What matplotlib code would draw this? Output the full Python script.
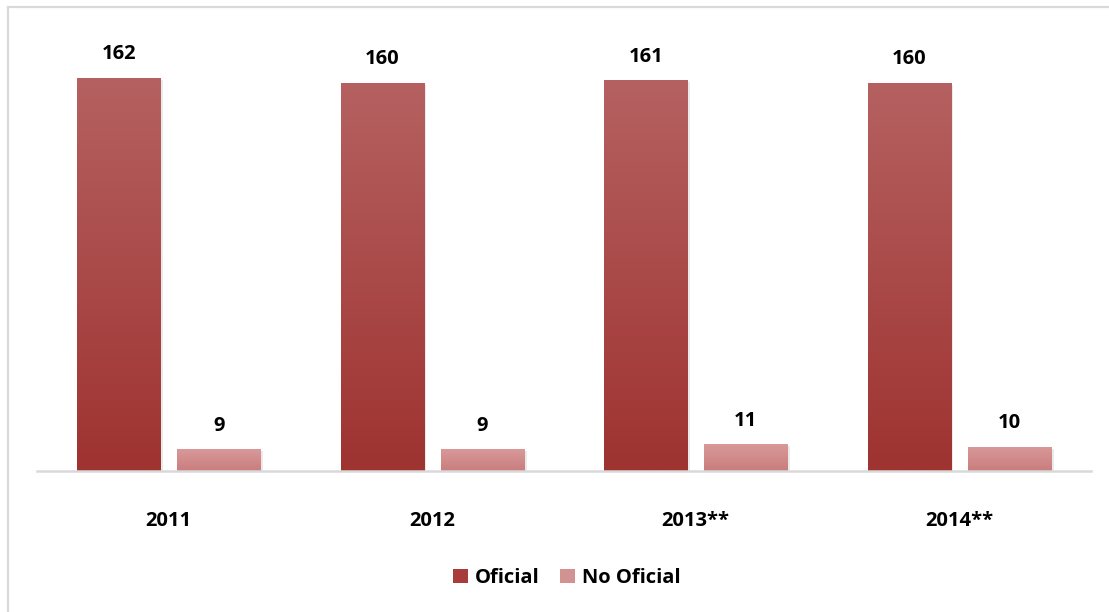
import numpy as np
import matplotlib
matplotlib.use("Agg")
from matplotlib import pyplot as plt
from matplotlib.patches import Patch
from matplotlib.lines import Line2D
import matplotlib.patheffects as pe

categories = ["2011", "2012", "2013**", "2014**"]
oficial = [162, 160, 161, 160]
no_oficial = [9, 9, 11, 10]
series_names = ["Oficial", "No Oficial"]

plt.rcParams['font.family'] = ['Open Sans', 'DejaVu Sans']
plt.rcParams['font.weight'] = 'bold'

W, H = 1109, 612
fig = plt.figure(figsize=(W / 100, H / 100), dpi=100)
ax = fig.add_axes([37 / W, 141 / H, 1054 / W, 437 / H])

x = np.arange(len(categories))
bw = 0.315
off = 0.19

# gradient colours (top, bottom)
grad = {
    "Oficial": ((0.71, 0.38, 0.38), (0.62, 0.20, 0.19)),
    "No Oficial": ((0.85, 0.60, 0.60), (0.79, 0.49, 0.49)),
}
base = {"Oficial": "#a83c3a", "No Oficial": "#d39292"}

shadow = [pe.SimplePatchShadow(offset=(2, -1.5), shadow_rgbFace=(0.6, 0.6, 0.6), alpha=0.2),
          pe.Normal()]

for vals, name, dx in [(oficial, "Oficial", -off), (no_oficial, "No Oficial", off)]:
    bars = ax.bar(x + dx, vals, width=bw, color=base[name], zorder=2,
                  path_effects=shadow)
    top, bot = grad[name]
    g = np.linspace(0, 1, 64)
    img = np.zeros((64, 1, 3))
    for k in range(3):
        img[:, 0, k] = top[k] * (1 - g) + bot[k] * g
    for b, v in zip(bars, vals):
        x0 = b.get_x()
        im = ax.imshow(img, extent=(x0, x0 + bw, 0, v), aspect='auto',
                       origin='upper', zorder=3, interpolation='bilinear')
        im.set_clip_path(b)
        ax.annotate(str(v), (b.get_x() + bw / 2, v), xytext=(0, 17),
                    textcoords='offset points', ha='center', va='center',
                    fontsize=14.5, fontweight='bold', color='black')

ax.set_xlim(-0.5, len(categories) - 0.5)
ax.set_ylim(0, 180)
ax.set_yticks([])
ax.set_xticks(x)
ax.set_xticklabels(categories, fontsize=14.5, fontweight='bold')
ax.tick_params(axis='x', length=0, pad=29)
for s in ['top', 'right', 'left']:
    ax.spines[s].set_visible(False)
ax.spines['bottom'].set_color('#d9d9d9')
ax.spines['bottom'].set_linewidth(1.8)
ax.spines['bottom'].set_zorder(4)

handles = [Patch(facecolor=base[n], edgecolor='none') for n in series_names]
leg = fig.legend(handles, series_names, loc='center', bbox_to_anchor=(567 / W, 1 - 578 / H),
                 ncol=2, frameon=False, fontsize=14.5, handlelength=0.75, handleheight=0.75,
                 handletextpad=0.35, columnspacing=1.0)
for t in leg.get_texts():
    t.set_fontweight('bold')

# outer frame (top and left edges visible)
fig.add_artist(Line2D([7.5 / W, 1], [1 - 6.5 / H, 1 - 6.5 / H], color='#d9d9d9', lw=1.6,
                      transform=fig.transFigure))
fig.add_artist(Line2D([7.5 / W, 7.5 / W], [0, 1 - 6.5 / H], color='#d9d9d9', lw=1.6,
                      transform=fig.transFigure))

fig.savefig("out.png", dpi=100)
